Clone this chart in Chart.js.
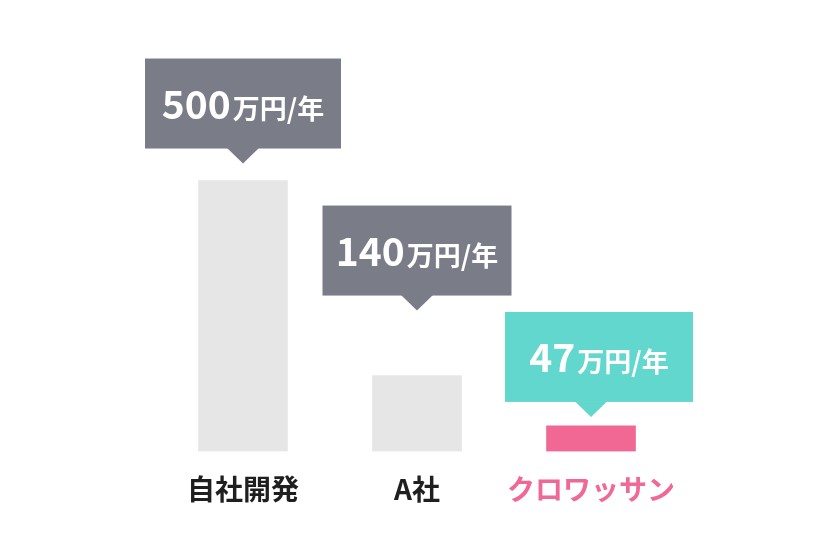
<!DOCTYPE html>
<html>
<head>
<meta charset="utf-8">
<script src="https://cdn.jsdelivr.net/npm/chart.js@4"></script>
<style>
  html, body { margin: 0; padding: 0; background: #fff; }
  #wrap { width: 840px; height: 560px; }
</style>
</head>
<body>
<div id="wrap"><canvas id="chart"></canvas></div>
<script>
// chart values
const categories = ["自社開発", "A社", "クロワッサン"];
const costs = [500, 140, 47];
const unitLabel = "万円/年";

const barColors = ["#e6e6e6", "#e6e6e6", "#f26894"];
const labelColors = ["#1f1f1f", "#1f1f1f", "#f06895"];
const boxColors = ["#7a7c87", "#7a7c87", "#62d7cd"];

const FONT = "'Noto Sans CJK JP', 'Noto Sans', sans-serif";

// Draw the speech-bubble callouts above each bar
const calloutPlugin = {
    id: "callouts",
    afterDatasetsDraw(chart, args, opts) {
        const ctx = chart.ctx;
        const bars = chart.getDatasetMeta(0).data;
        bars.forEach((bar, i) => {
            const tipY = bar.y - opts.gaps[i];
            const boxBottom = tipY - opts.tipH;
            const boxTop = boxBottom - opts.boxH;
            const w = opts.widths[i];
            const cx = bar.x + opts.shift[i];

            ctx.save();
            ctx.fillStyle = boxColors[i];
            ctx.fillRect(cx - w / 2, boxTop, w, opts.boxH);
            ctx.beginPath();
            ctx.moveTo(bar.x - opts.tipW, boxBottom - 0.5);
            ctx.lineTo(bar.x + opts.tipW, boxBottom - 0.5);
            ctx.lineTo(bar.x, tipY);
            ctx.closePath();
            ctx.fill();

            // value + unit, centred together
            const num = String(costs[i]);
            ctx.fillStyle = "#fff";
            ctx.textBaseline = "alphabetic";
            ctx.textAlign = "left";
            ctx.font = "bold 39px " + FONT;
            const nw = ctx.measureText(num).width;
            ctx.font = "bold 27px " + FONT;
            const uw = ctx.measureText(unitLabel).width;
            const x0 = cx - (nw + 2 + uw) / 2;
            const base = boxTop + opts.boxH / 2 + 15;
            ctx.font = "bold 39px " + FONT;
            ctx.fillText(num, x0, base);
            ctx.font = "bold 27px " + FONT;
            ctx.fillText(unitLabel, x0 + nw + 2, base);
            ctx.restore();
        });
    }
};

new Chart(document.getElementById("chart"), {
    type: "bar",
    data: {
        labels: categories,
        datasets: [{
            data: costs,
            backgroundColor: barColors,
            borderWidth: 0,
            barThickness: 89
        }]
    },
    options: {
        responsive: true,
        maintainAspectRatio: false,
        animation: false,
        layout: { padding: { left: 156, right: 162, top: 18, bottom: 33 } },
        plugins: {
            legend: { display: false },
            tooltip: { enabled: false },
            callouts: {
                gaps: [17, 65, 9],
                widths: [196, 189, 188],
                shift: [0, 0, 8],
                boxH: 90,
                tipH: 15,
                tipW: 16
            }
        },
        scales: {
            x: {
                grid: { display: false, drawTicks: false },
                border: { display: false },
                ticks: {
                    padding: 21,
                    autoSkip: false,
                    maxRotation: 0,
                    minRotation: 0,
                    color: labelColors,
                    font: { family: FONT, size: 28, weight: "bold" }
                }
            },
            y: {
                display: false,
                min: 0,
                max: 800
            }
        }
    },
    plugins: [calloutPlugin]
});
</script>
</body>
</html>
